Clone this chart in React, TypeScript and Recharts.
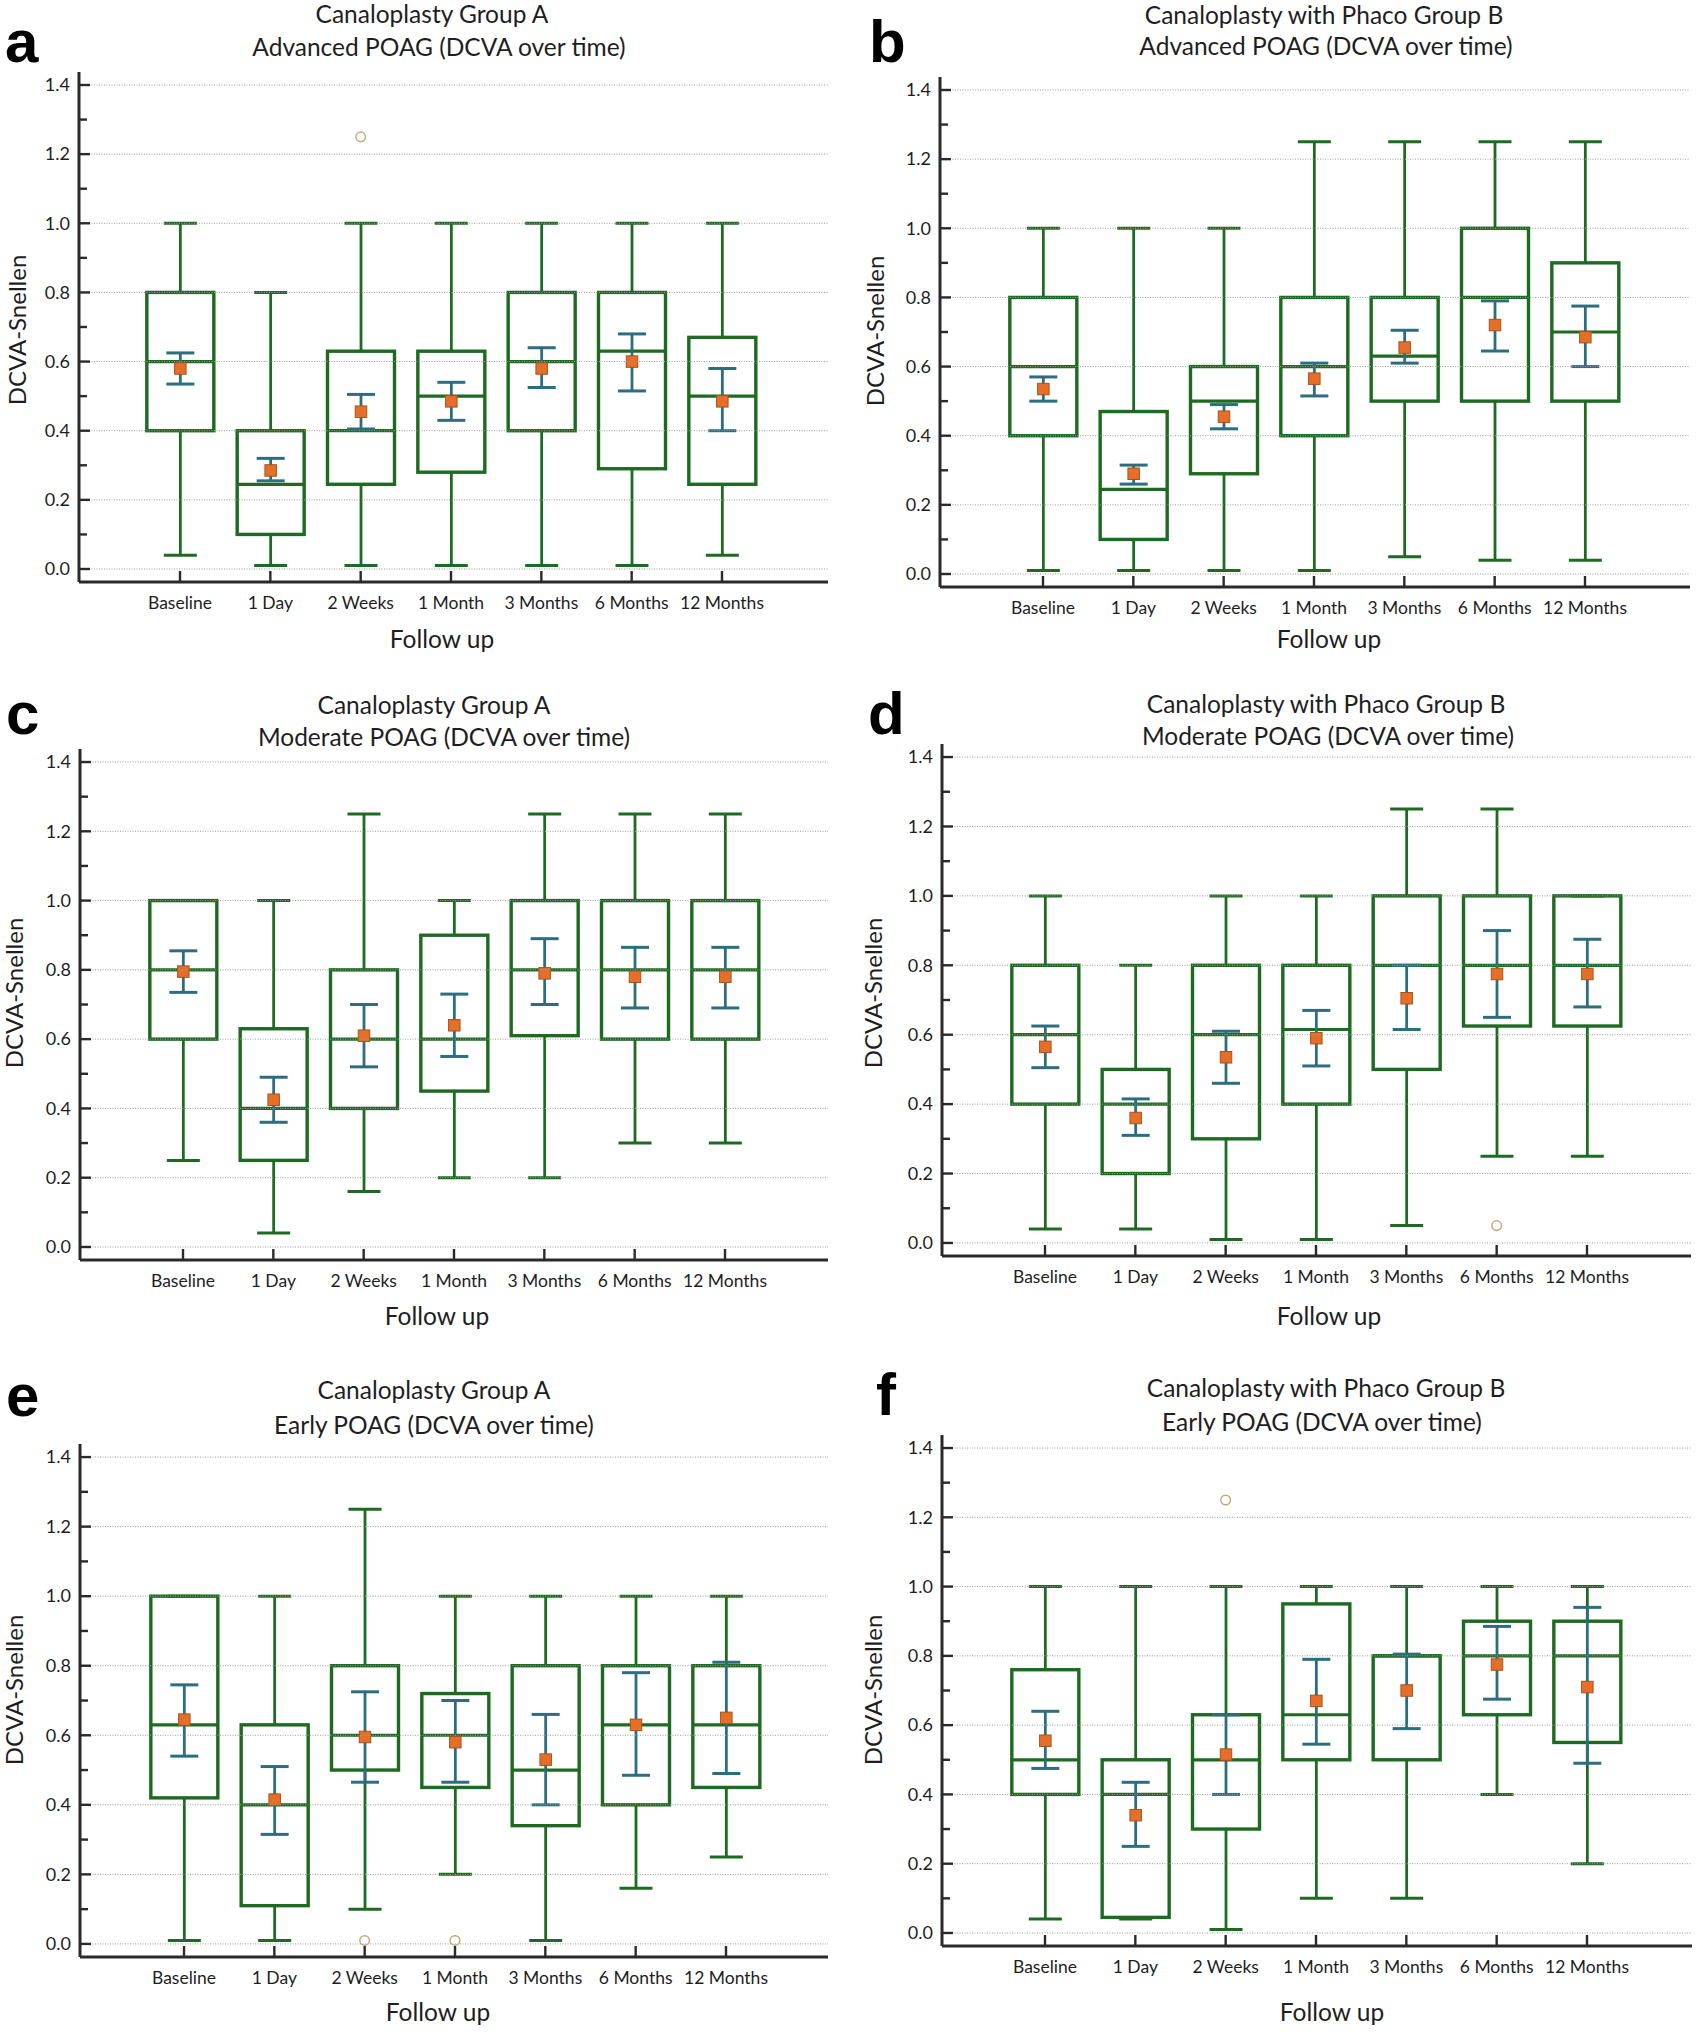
import React from 'react';
import { ComposedChart, Bar, Scatter, XAxis, YAxis, ReferenceLine } from 'recharts';

const categories = ['Baseline', '1 Day', '2 Weeks', '1 Month', '3 Months', '6 Months', '12 Months'];
const yTicks = [0, 0.1, 0.2, 0.3, 0.4, 0.5, 0.6, 0.7, 0.8, 0.9, 1.0, 1.1, 1.2, 1.3, 1.4];
const gridValues = [0, 0.2, 0.4, 0.6, 0.8, 1.0, 1.2, 1.4];

// Panel a: Canaloplasty Group A, Advanced POAG
const aMin = [0.04, 0.01, 0.01, 0.01, 0.01, 0.01, 0.04];
const aQ1 = [0.40, 0.10, 0.245, 0.28, 0.40, 0.29, 0.245];
const aMed = [0.60, 0.245, 0.40, 0.50, 0.60, 0.63, 0.50];
const aQ3 = [0.80, 0.40, 0.63, 0.63, 0.80, 0.80, 0.67];
const aMax = [1.0, 0.8, 1.0, 1.0, 1.0, 1.0, 1.0];
const aMean = [0.58, 0.285, 0.455, 0.485, 0.58, 0.60, 0.485];
const aCiLo = [0.535, 0.255, 0.405, 0.43, 0.525, 0.515, 0.40];
const aCiHi = [0.625, 0.32, 0.505, 0.54, 0.64, 0.68, 0.58];
const aOut = [null, null, 1.25, null, null, null, null];

// Panel b: Canaloplasty with Phaco Group B, Advanced POAG
const bMin = [0.01, 0.01, 0.01, 0.01, 0.05, 0.04, 0.04];
const bQ1 = [0.40, 0.10, 0.29, 0.40, 0.50, 0.50, 0.50];
const bMed = [0.60, 0.245, 0.50, 0.60, 0.63, 0.80, 0.70];
const bQ3 = [0.80, 0.47, 0.60, 0.80, 0.80, 1.00, 0.90];
const bMax = [1.0, 1.0, 1.0, 1.25, 1.25, 1.25, 1.25];
const bMean = [0.535, 0.29, 0.455, 0.565, 0.655, 0.72, 0.685];
const bCiLo = [0.50, 0.26, 0.42, 0.515, 0.61, 0.645, 0.60];
const bCiHi = [0.57, 0.315, 0.49, 0.61, 0.705, 0.79, 0.775];
const bOut = [null, null, null, null, null, null, null];

// Panel c: Canaloplasty Group A, Moderate POAG
const cMin = [0.25, 0.04, 0.16, 0.20, 0.20, 0.30, 0.30];
const cQ1 = [0.60, 0.25, 0.40, 0.45, 0.61, 0.60, 0.60];
const cMed = [0.80, 0.40, 0.60, 0.60, 0.80, 0.80, 0.80];
const cQ3 = [1.0, 0.63, 0.80, 0.90, 1.0, 1.0, 1.0];
const cMax = [1.0, 1.0, 1.25, 1.0, 1.25, 1.25, 1.25];
const cMean = [0.795, 0.425, 0.61, 0.64, 0.79, 0.78, 0.78];
const cCiLo = [0.735, 0.36, 0.52, 0.55, 0.70, 0.69, 0.69];
const cCiHi = [0.855, 0.49, 0.70, 0.73, 0.89, 0.865, 0.865];
const cOut = [null, null, null, null, null, null, null];

// Panel d: Canaloplasty with Phaco Group B, Moderate POAG
const dMin = [0.04, 0.04, 0.01, 0.01, 0.05, 0.25, 0.25];
const dQ1 = [0.40, 0.20, 0.30, 0.40, 0.50, 0.625, 0.625];
const dMed = [0.60, 0.40, 0.60, 0.615, 0.80, 0.80, 0.80];
const dQ3 = [0.80, 0.50, 0.80, 0.80, 1.0, 1.0, 1.0];
const dMax = [1.0, 0.8, 1.0, 1.0, 1.25, 1.25, 1.0];
const dMean = [0.565, 0.36, 0.535, 0.59, 0.705, 0.775, 0.775];
const dCiLo = [0.505, 0.31, 0.46, 0.51, 0.615, 0.65, 0.68];
const dCiHi = [0.625, 0.415, 0.61, 0.67, 0.80, 0.90, 0.875];
const dOut = [null, null, null, null, null, 0.05, null];

// Panel e: Canaloplasty Group A, Early POAG
const eMin = [0.01, 0.01, 0.10, 0.20, 0.01, 0.16, 0.25];
const eQ1 = [0.42, 0.11, 0.50, 0.45, 0.34, 0.40, 0.45];
const eMed = [0.63, 0.40, 0.60, 0.60, 0.50, 0.63, 0.63];
const eQ3 = [1.0, 0.63, 0.80, 0.72, 0.80, 0.80, 0.80];
const eMax = [1.0, 1.0, 1.25, 1.0, 1.0, 1.0, 1.0];
const eMean = [0.645, 0.415, 0.595, 0.58, 0.53, 0.63, 0.65];
const eCiLo = [0.54, 0.315, 0.465, 0.465, 0.40, 0.485, 0.49];
const eCiHi = [0.745, 0.51, 0.725, 0.70, 0.66, 0.78, 0.81];
const eOut = [null, null, 0.01, 0.01, null, null, null];

// Panel f: Canaloplasty with Phaco Group B, Early POAG
const fMin = [0.04, 0.04, 0.01, 0.10, 0.10, 0.40, 0.20];
const fQ1 = [0.40, 0.045, 0.30, 0.50, 0.50, 0.63, 0.55];
const fMed = [0.50, 0.40, 0.50, 0.63, 0.80, 0.80, 0.80];
const fQ3 = [0.76, 0.50, 0.63, 0.95, 0.80, 0.90, 0.90];
const fMax = [1.0, 1.0, 1.0, 1.0, 1.0, 1.0, 1.0];
const fMean = [0.555, 0.34, 0.515, 0.67, 0.70, 0.775, 0.71];
const fCiLo = [0.475, 0.25, 0.40, 0.545, 0.59, 0.675, 0.49];
const fCiHi = [0.64, 0.435, 0.63, 0.79, 0.805, 0.885, 0.94];
const fOut = [null, null, 1.25, null, null, null, null];

const GREEN = '#1f6a22';
const TEAL = '#2c6e7e';
const ORANGE = '#e56f28';
const AXIS = '#2a2a2a';
const TEXT = '#1e1e1e';
const FONT = 'Lato, "Open Sans", sans-serif';
const DOM_LO = -0.0376;
const DOM_HI = 1.4376;
const X_AXIS_H = 30;

function buildRows(min: number[], q1: number[], med: number[], q3: number[], max: number[], mean: number[], ciLo: number[], ciHi: number[], out: (number | null)[]) {
  return categories.map((cat, i) => ({
    cat, min: min[i], q1: q1[i], med: med[i], q3: q3[i], max: max[i],
    mean: mean[i], ciLo: ciLo[i], ciHi: ciHi[i], out: out[i],
  }));
}

function BoxShape(props: any) {
  const { x, y, width, height, payload } = props;
  if (!payload || !isFinite(y) || !isFinite(height)) return <g />;
  const top = Math.min(y, y + height);
  const bot = Math.max(y, y + height);
  const k = (bot - top) / (payload.max - payload.min);
  const py = (v: number) => bot - (v - payload.min) * k;
  const cx = x + width / 2;
  const capW = 16.5;
  const ciW = 14;
  const sq = 11.5;
  return (
    <g>
      <line x1={cx} x2={cx} y1={py(payload.max)} y2={py(payload.q3)} stroke={GREEN} strokeWidth={2.8} />
      <line x1={cx} x2={cx} y1={py(payload.q1)} y2={py(payload.min)} stroke={GREEN} strokeWidth={2.8} />
      <line x1={cx - capW} x2={cx + capW} y1={py(payload.max)} y2={py(payload.max)} stroke={GREEN} strokeWidth={3} />
      <line x1={cx - capW} x2={cx + capW} y1={py(payload.min)} y2={py(payload.min)} stroke={GREEN} strokeWidth={3} />
      <rect x={x} y={py(payload.q3)} width={width} height={py(payload.q1) - py(payload.q3)} fill="none" stroke={GREEN} strokeWidth={3.4} />
      <line x1={x} x2={x + width} y1={py(payload.med)} y2={py(payload.med)} stroke={GREEN} strokeWidth={3.2} />
      <line x1={cx} x2={cx} y1={py(payload.ciHi)} y2={py(payload.ciLo)} stroke={TEAL} strokeWidth={2.8} />
      <line x1={cx - ciW} x2={cx + ciW} y1={py(payload.ciHi)} y2={py(payload.ciHi)} stroke={TEAL} strokeWidth={3} />
      <line x1={cx - ciW} x2={cx + ciW} y1={py(payload.ciLo)} y2={py(payload.ciLo)} stroke={TEAL} strokeWidth={3} />
      <rect x={cx - sq / 2} y={py(payload.mean) - sq / 2} width={sq} height={sq} fill={ORANGE} stroke="#a9521c" strokeWidth={1} />
    </g>
  );
}

function OutShape(props: any) {
  const { cx, cy, payload } = props;
  if (!payload || payload.out == null || !isFinite(cx) || !isFinite(cy)) return <g />;
  return <circle cx={cx} cy={cy} r={4.8} fill="none" stroke="#c2a97c" strokeWidth={1.5} />;
}

function XTick(props: any) {
  const { x, y, payload } = props;
  return (
    <g>
      <line x1={x} x2={x} y1={y} y2={y - 11} stroke={AXIS} strokeWidth={2.4} />
      <text x={x} y={y + 27} textAnchor="middle" fontFamily={FONT} fontSize={17.5} fill={TEXT}>{payload.value}</text>
    </g>
  );
}

function YTick(props: any) {
  const { x, y, payload } = props;
  const v = payload.value as number;
  const major = Math.round(v * 10) % 2 === 0;
  const ax = x + 9;
  return (
    <g>
      <line x1={ax} x2={ax + (major ? 11 : 8)} y1={y} y2={y} stroke={AXIS} strokeWidth={2.4} />
      {major && (
        <text x={x} y={y} dy="0.35em" textAnchor="end" fontFamily={FONT} fontSize={18} fill={TEXT}>{v.toFixed(1)}</text>
      )}
    </g>
  );
}

type Geo = { axisX: number; y14: number; y0: number; rightX: number; firstX: number; lastX: number };

function Panel({ rows, g }: { rows: any[]; g: Geo }) {
  const unit = (g.y0 - g.y14) / 1.4;
  const plotTop = g.y14 - (DOM_HI - 1.4) * unit;
  const plotBottom = g.y0 - (0 - DOM_LO) * unit;
  const chartLeft = g.axisX - 80;
  const chartTop = plotTop - 20;
  const width = g.rightX - chartLeft + 10;
  // extra space absorbed by the library below the x axis band
  const height = plotBottom - chartTop + 60 + 26;
  const band = (g.lastX - g.firstX) / 6;
  const padL = g.firstX - band / 2 - g.axisX;
  const padR = g.rightX - (g.lastX + band / 2);
  return (
    <div style={{ position: 'absolute', left: chartLeft, top: chartTop }}>
      <ComposedChart width={width} height={height} data={rows} margin={{ top: 20, right: 10, left: 20, bottom: 30 }}>
        <XAxis dataKey="cat" type="category" padding={{ left: padL, right: padR }} height={X_AXIS_H} tickSize={0} tickMargin={0}
          tick={<XTick />} tickLine={false} axisLine={{ stroke: AXIS, strokeWidth: 3 }} interval={0} />
        <YAxis type="number" domain={[DOM_LO, DOM_HI]} ticks={yTicks} width={60} tickSize={0} tickMargin={9}
          tick={<YTick />} tickLine={false} axisLine={{ stroke: AXIS, strokeWidth: 3 }} interval={0} allowDataOverflow />
        {gridValues.map((v) => (
          <ReferenceLine key={v} y={v} stroke="#9c9c9c" strokeDasharray="1 1.5" strokeWidth={1} />
        ))}
        <Bar dataKey={(d: any) => [d.min, d.max]} barSize={67} shape={BoxShape} isAnimationActive={false} />
        <Scatter dataKey="out" shape={OutShape} isAnimationActive={false} />
      </ComposedChart>
    </div>
  );
}

const geoA: Geo = { axisX: 79, y14: 85, y0: 569, rightX: 828, firstX: 180, lastX: 722 };
const geoB: Geo = { axisX: 940, y14: 90, y0: 574, rightX: 1690, firstX: 1043, lastX: 1585 };
const geoC: Geo = { axisX: 80, y14: 762, y0: 1247, rightX: 828, firstX: 183, lastX: 725 };
const geoD: Geo = { axisX: 942, y14: 757, y0: 1243, rightX: 1691, firstX: 1045, lastX: 1587 };
const geoE: Geo = { axisX: 80, y14: 1457, y0: 1944, rightX: 828, firstX: 184, lastX: 726 };
const geoF: Geo = { axisX: 942, y14: 1448, y0: 1933, rightX: 1692, firstX: 1045, lastX: 1587 };

const titleTexts = [
  { x: 432, y: 23, t: 'Canaloplasty Group A' }, { x: 439, y: 56, t: 'Advanced POAG (DCVA over time)' },
  { x: 1324, y: 24, t: 'Canaloplasty with Phaco Group B' }, { x: 1326, y: 55, t: 'Advanced POAG (DCVA over time)' },
  { x: 434, y: 714, t: 'Canaloplasty Group A' }, { x: 444, y: 746, t: 'Moderate POAG (DCVA over time)' },
  { x: 1326, y: 713, t: 'Canaloplasty with Phaco Group B' }, { x: 1328, y: 745, t: 'Moderate POAG (DCVA over time)' },
  { x: 434, y: 1399, t: 'Canaloplasty Group A' }, { x: 434, y: 1434, t: 'Early POAG (DCVA over time)' },
  { x: 1326, y: 1397, t: 'Canaloplasty with Phaco Group B' }, { x: 1322, y: 1431, t: 'Early POAG (DCVA over time)' },
];
const followUps = [
  { x: 442, y: 648 }, { x: 1329, y: 648 }, { x: 437, y: 1325 }, { x: 1329, y: 1325 }, { x: 438, y: 2021 }, { x: 1332, y: 2021 },
];
const yLabels = [
  { x: 16, y: 330 }, { x: 874, y: 331 }, { x: 13, y: 993 }, { x: 872, y: 993 }, { x: 13, y: 1690 }, { x: 872, y: 1690 },
];
const letters = [
  { x: 5, y: 62, t: 'a' }, { x: 869, y: 62, t: 'b' }, { x: 6, y: 734, t: 'c' },
  { x: 868, y: 734, t: 'd' }, { x: 6, y: 1416, t: 'e' }, { x: 876, y: 1415, t: 'f' },
];

export default function App() {
  return (
    <div style={{ position: 'absolute', left: 0, top: 0, width: 1701, height: 2034, background: '#fff', overflow: 'hidden' }}>
      <Panel rows={buildRows(aMin, aQ1, aMed, aQ3, aMax, aMean, aCiLo, aCiHi, aOut)} g={geoA} />
      <Panel rows={buildRows(bMin, bQ1, bMed, bQ3, bMax, bMean, bCiLo, bCiHi, bOut)} g={geoB} />
      <Panel rows={buildRows(cMin, cQ1, cMed, cQ3, cMax, cMean, cCiLo, cCiHi, cOut)} g={geoC} />
      <Panel rows={buildRows(dMin, dQ1, dMed, dQ3, dMax, dMean, dCiLo, dCiHi, dOut)} g={geoD} />
      <Panel rows={buildRows(eMin, eQ1, eMed, eQ3, eMax, eMean, eCiLo, eCiHi, eOut)} g={geoE} />
      <Panel rows={buildRows(fMin, fQ1, fMed, fQ3, fMax, fMean, fCiLo, fCiHi, fOut)} g={geoF} />
      <svg width={1701} height={2034} style={{ position: 'absolute', left: 0, top: 0, pointerEvents: 'none' }}>
        {titleTexts.map((d, i) => (
          <text key={'t' + i} x={d.x} y={d.y} textAnchor="middle" fontFamily={FONT} fontSize={24.5} fill={TEXT}>{d.t}</text>
        ))}
        {followUps.map((d, i) => (
          <text key={'f' + i} x={d.x} y={d.y} textAnchor="middle" fontFamily={FONT} fontSize={24.5} fill={TEXT}>Follow up</text>
        ))}
        {yLabels.map((d, i) => (
          <text key={'y' + i} x={d.x} y={d.y} textAnchor="middle" dominantBaseline="central" transform={`rotate(-90 ${d.x} ${d.y})`}
            fontFamily={FONT} fontSize={24} fill={TEXT}>DCVA-Snellen</text>
        ))}
        {letters.map((d, i) => (
          <text key={'l' + i} x={d.x} y={d.y} fontFamily='"Liberation Sans", Arial, sans-serif' fontWeight="bold" fontSize={60} fill="#000">{d.t}</text>
        ))}
      </svg>
    </div>
  );
}
